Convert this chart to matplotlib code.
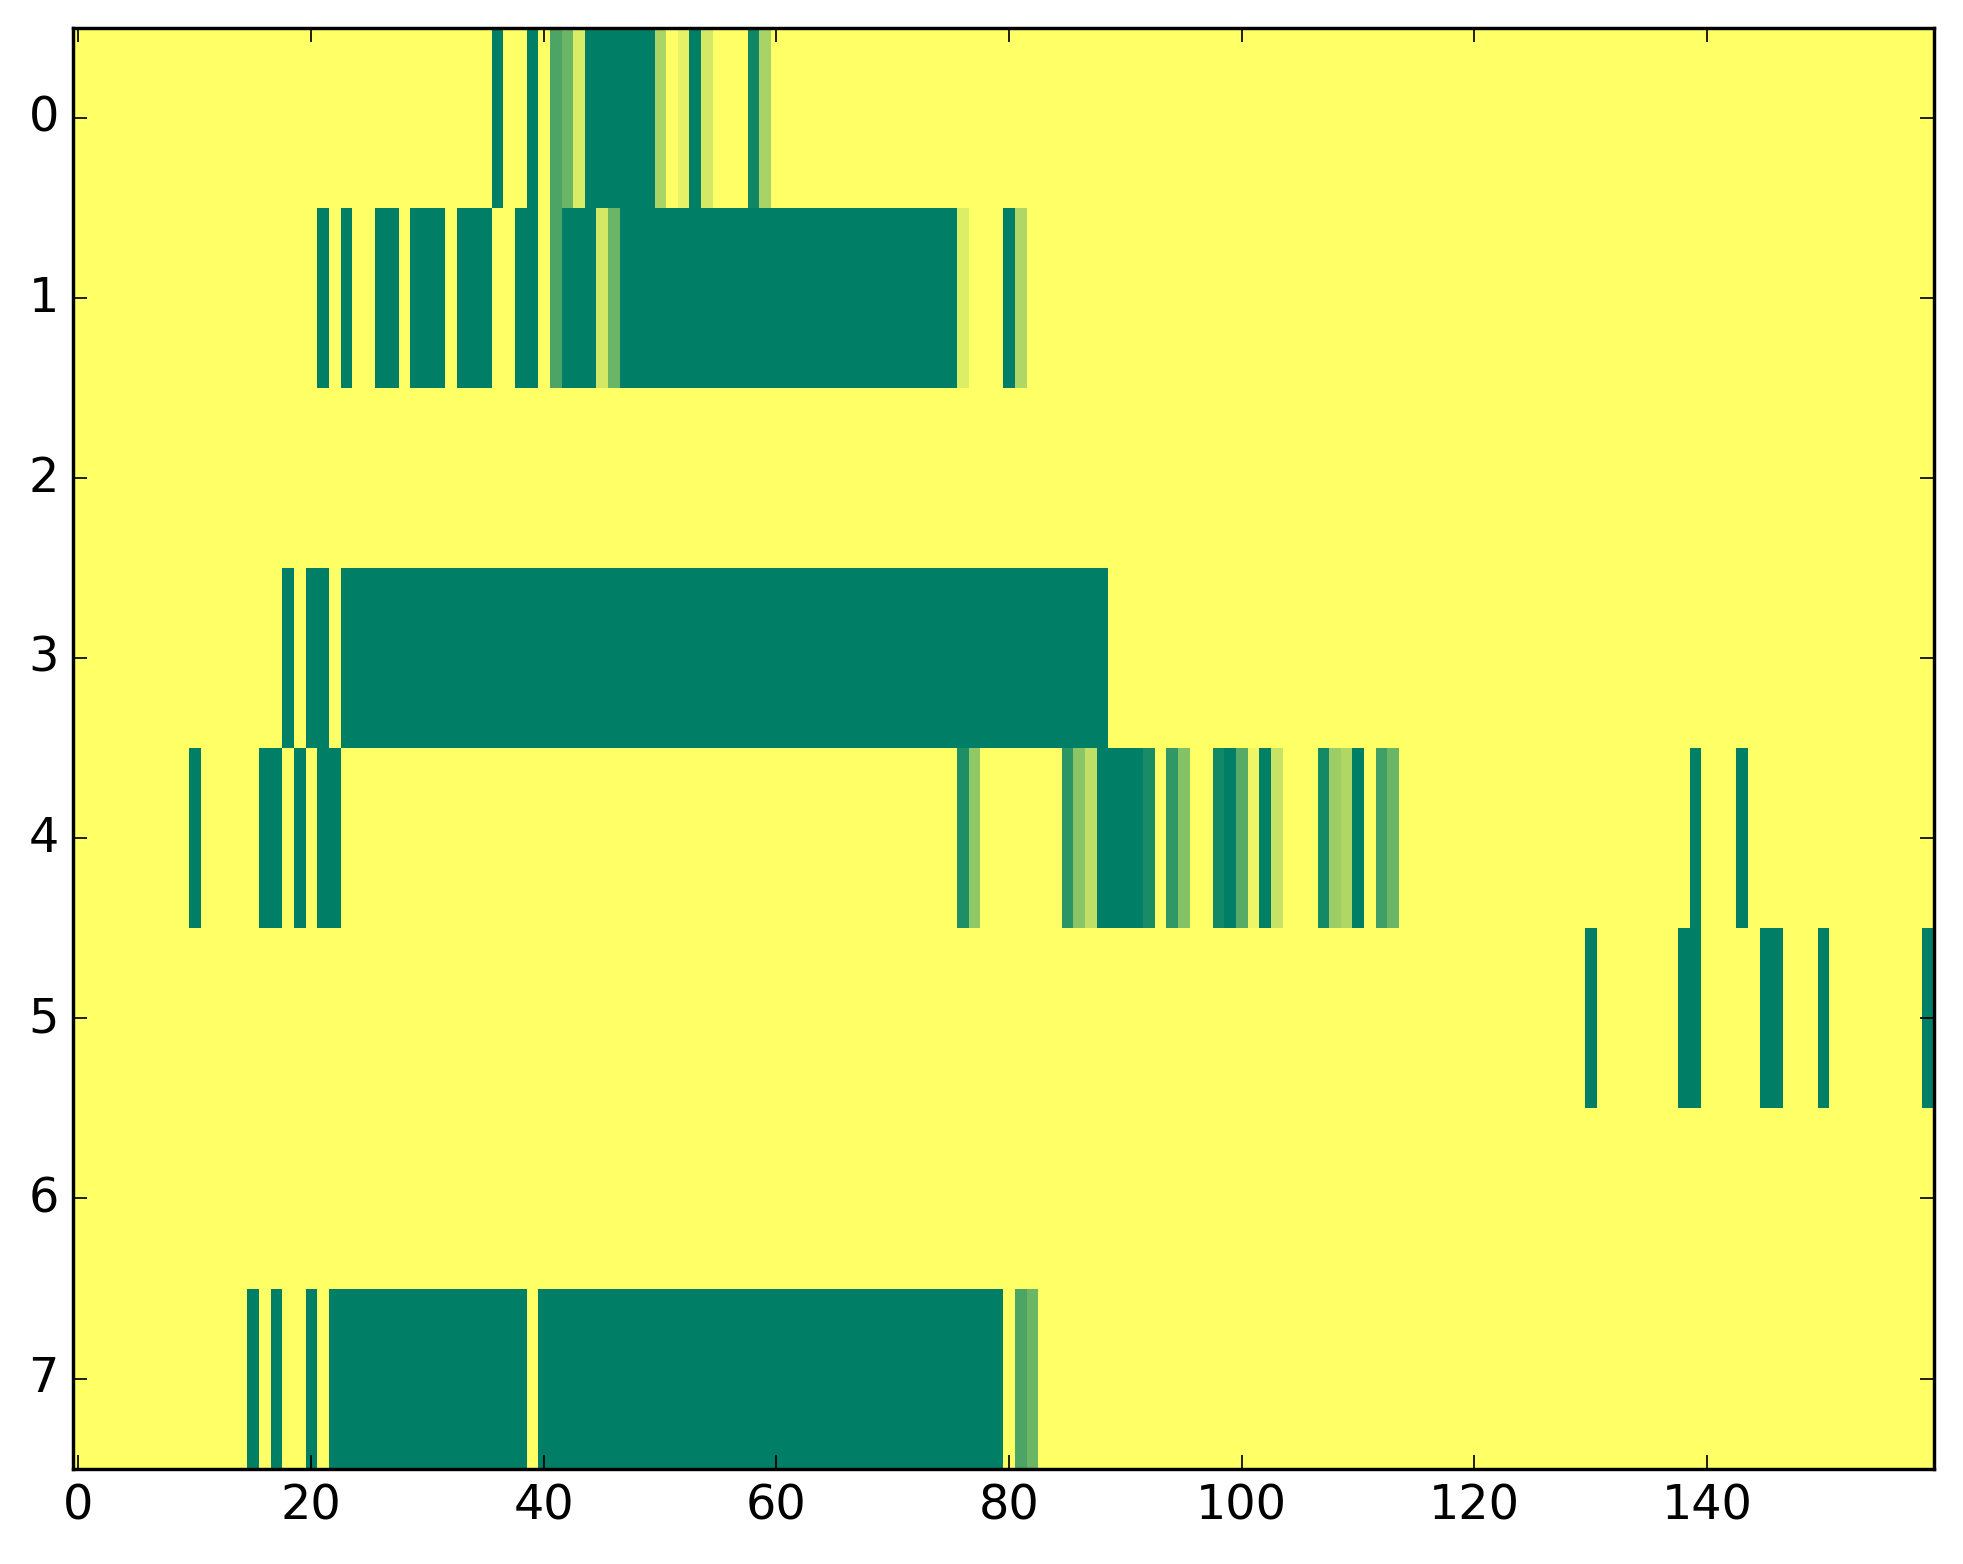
import numpy as np
import matplotlib
matplotlib.use('Agg')
import matplotlib.pyplot as plt

# Размер матрицы: 8 строк, 160 столбцов; по умолчанию значение 1.0
n_rows = 8
n_cols = 160

# Ячейки со значениями != 1: (начало, конец включительно, значение)
row0_cells = [(36, 36, 0.0), (39, 39, 0.0), (41, 41, 0.30), (42, 42, 0.42),
              (43, 43, 0.85), (44, 49, 0.0), (50, 50, 0.67), (52, 52, 0.90),
              (53, 53, 0.0), (54, 54, 0.83), (58, 58, 0.06), (59, 59, 0.66)]
row1_cells = [(21, 21, 0.0), (23, 23, 0.0), (26, 27, 0.0), (29, 31, 0.0),
              (33, 35, 0.0), (38, 39, 0.0), (41, 41, 0.30), (42, 44, 0.0),
              (45, 45, 0.83), (46, 46, 0.42), (47, 75, 0.0), (76, 76, 0.86),
              (80, 80, 0.0), (81, 81, 0.69)]
row2_cells = []
row3_cells = [(18, 18, 0.0), (20, 21, 0.0), (23, 88, 0.0)]
row4_cells = [(10, 10, 0.0), (16, 17, 0.0), (19, 19, 0.0), (21, 22, 0.0),
              (76, 76, 0.12), (77, 77, 0.57), (85, 85, 0.17), (86, 86, 0.55),
              (87, 87, 0.75), (88, 91, 0.0), (92, 92, 0.10), (94, 94, 0.19),
              (95, 95, 0.52), (98, 98, 0.07), (99, 99, 0.0), (100, 100, 0.34),
              (101, 101, 0.93), (102, 102, 0.0), (103, 103, 0.78),
              (107, 107, 0.08), (108, 108, 0.61), (109, 109, 0.69),
              (110, 110, 0.0), (112, 112, 0.25), (113, 113, 0.42),
              (139, 139, 0.0), (143, 143, 0.0)]
row5_cells = [(130, 130, 0.0), (138, 139, 0.0), (145, 146, 0.0),
              (150, 150, 0.0), (159, 159, 0.0)]
row6_cells = []
row7_cells = [(15, 15, 0.0), (17, 17, 0.0), (20, 20, 0.0), (22, 38, 0.0),
              (40, 79, 0.0), (81, 81, 0.30), (82, 82, 0.42)]

all_rows = [row0_cells, row1_cells, row2_cells, row3_cells,
            row4_cells, row5_cells, row6_cells, row7_cells]

# Сборка матрицы
data = np.ones((n_rows, n_cols))
for r, cells in enumerate(all_rows):
    for start, end, val in cells:
        data[r, start:end + 1] = val

plt.style.use('classic')
plt.rcParams['xtick.labelsize'] = 14
plt.rcParams['ytick.labelsize'] = 14
fig = plt.figure(figsize=(8, 6.375), dpi=245.375)
fig.patch.set_facecolor('white')
ax = fig.add_subplot(111)
ax.imshow(data, cmap='summer', aspect='auto', interpolation='nearest',
          vmin=0, vmax=1)
ax.set_xticks(np.arange(0, 141, 20))
ax.set_yticks(np.arange(0, 8, 1))
plt.subplots_adjust(left=0.037, right=0.985, top=0.982, bottom=0.061)
plt.savefig('out.png', dpi=245.375, facecolor='white')
